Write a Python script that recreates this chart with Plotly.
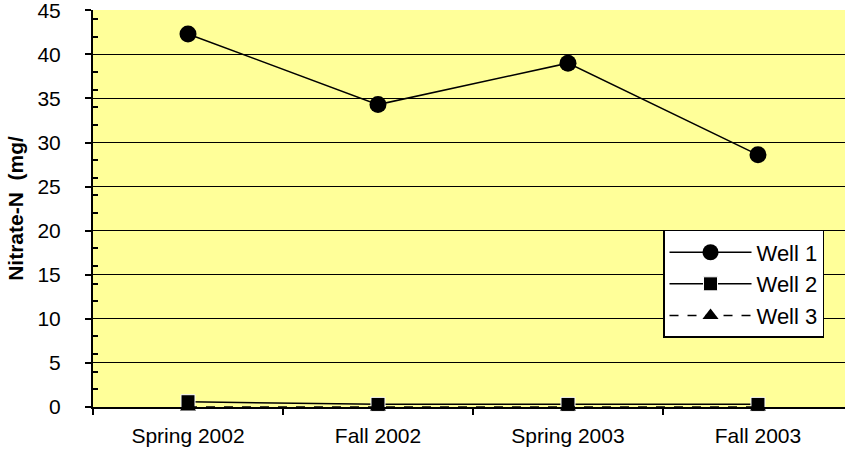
import plotly.graph_objects as go

categories = ["Spring 2002", "Fall 2002", "Spring 2003", "Fall 2003"]
well1 = [42.3, 34.3, 39.0, 28.6]
well2 = [0.6, 0.3, 0.3, 0.3]
well3 = [0.0, 0.0, 0.0, 0.0]

FONT = "Liberation Sans, Arial, sans-serif"

fig = go.Figure()
fig.add_trace(go.Scatter(
    x=categories, y=well1, name="Well 1", mode="lines+markers",
    line=dict(color="black", width=1.5),
    marker=dict(symbol="circle", size=17, color="black"),
    legendgroup="g1", cliponaxis=False))
fig.add_trace(go.Scatter(
    x=categories, y=well2, name="Well 2", mode="lines+markers",
    line=dict(color="black", width=1.5),
    marker=dict(symbol="square", size=14, color="black",
                line=dict(color="white", width=1)),
    legendgroup="g2", cliponaxis=False))
fig.add_trace(go.Scatter(
    x=categories, y=well3, name="Well 3", mode="lines+markers",
    line=dict(color="black", width=1.5, dash="dash"),
    marker=dict(symbol="triangle-up", size=14, color="black"),
    legendgroup="g3", cliponaxis=False))

fig.update_layout(
    width=845, height=465,
    margin=dict(l=93, r=0, t=10, b=58, autoexpand=False),
    paper_bgcolor="white",
    plot_bgcolor="#FFFF99",
    font=dict(family=FONT, size=21, color="black"),
    showlegend=True,
    legend=dict(
        x=0.758, y=0.446, xanchor="left", yanchor="top",
        bgcolor="white", bordercolor="black", borderwidth=1.5,
        font=dict(family=FONT, size=22, color="black"),
        tracegroupgap=0, itemwidth=82,
        entrywidth=170, entrywidthmode="pixels",
    ),
)

fig.update_xaxes(
    type="category", range=[-0.5, 3.458],
    showline=True, linecolor="black", linewidth=2,
    ticks="outside", ticklen=6, tickwidth=1.5, tickcolor="black",
    tickson="boundaries", showgrid=False,
    tickfont=dict(family=FONT, size=21),
    ticklabelstandoff=9, automargin=False,
)
fig.update_yaxes(
    range=[0, 45.03], tickvals=[0, 5, 10, 15, 20, 25, 30, 35, 40, 45],
    showline=True, linecolor="black", linewidth=2,
    ticks="outside", ticklen=6, tickwidth=1.5, tickcolor="black",
    showgrid=True, gridcolor="black", gridwidth=1,
    zeroline=False, automargin=False,
    minor=dict(tickvals=[2, 4, 6, 8, 12, 14, 16, 18, 22, 24, 26, 28,
                         32, 34, 36, 38, 42, 44],
               ticks="inside", ticklen=5,
               tickcolor="black", tickwidth=1.5, showgrid=False),
    tickfont=dict(family=FONT, size=21),
    ticklabelstandoff=20, ticklabeloverflow="allow",
    title=dict(text="<b>Nitrate-N  (mg/</b>", font=dict(family=FONT, size=21),
               standoff=8),
)

fig.write_html(
    "out.html",
    config={"displayModeBar": False},
    post_script="document.body.style.margin='0';document.body.style.overflow='hidden';",
)
